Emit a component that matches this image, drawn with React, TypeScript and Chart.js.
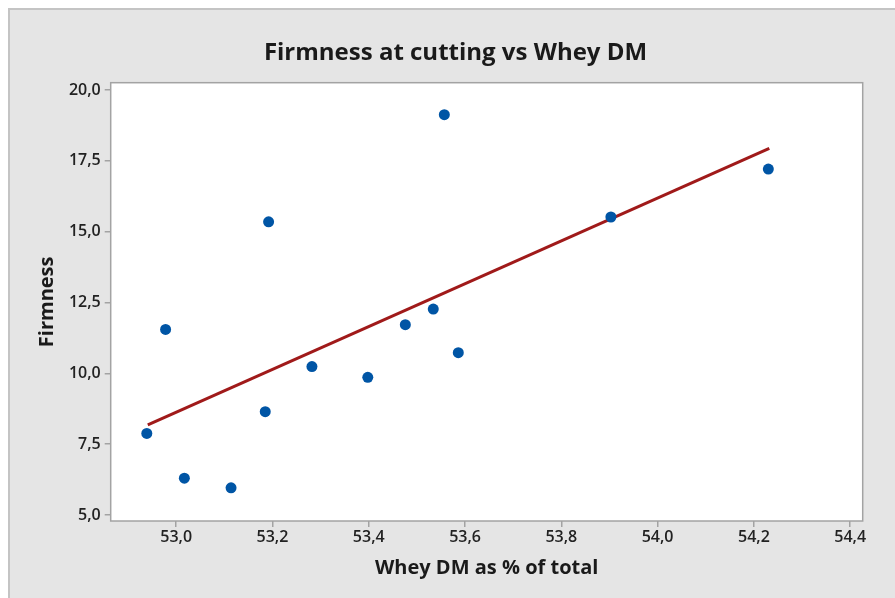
import React, { useEffect, useRef } from "react";
import { Chart, registerables } from "chart.js";

Chart.register(...registerables);

// Observations: whey dry matter (% of total) and firmness at cutting
const wheyDM = [52.939, 52.978, 53.017, 53.114, 53.185, 53.192, 53.282, 53.398, 53.476, 53.534, 53.557, 53.586, 53.903, 54.23];
const firmness = [7.88, 11.55, 6.3, 5.96, 8.65, 15.35, 10.24, 9.86, 11.72, 12.27, 19.13, 10.73, 15.52, 17.21];

// Fitted regression line end points
const fitX = [52.941, 54.232];
const fitY = [8.18, 17.94];

// Axis ticks
const xTicks = [53.0, 53.2, 53.4, 53.6, 53.8, 54.0, 54.2, 54.4];
const yTicks = [5.0, 7.5, 10.0, 12.5, 15.0, 17.5, 20.0];

const TITLE = "Firmness at cutting vs Whey DM";
const FONT = "'Open Sans', 'Noto Sans', sans-serif";
const fmt = (v: number) => v.toFixed(1).replace(".", ",");

const panelPlugin = {
  id: "panel",
  beforeDraw(chart: any) {
    const { ctx, width, height, chartArea } = chart;
    ctx.save();
    ctx.fillStyle = "#e5e5e5";
    ctx.fillRect(0, 0, width, height);
    ctx.strokeStyle = "#c4c4c4";
    ctx.lineWidth = 2;
    ctx.beginPath();
    ctx.moveTo(1, height);
    ctx.lineTo(1, 1);
    ctx.lineTo(width, 1);
    ctx.stroke();
    ctx.fillStyle = "#ffffff";
    ctx.fillRect(chartArea.left, chartArea.top, chartArea.right - chartArea.left, chartArea.bottom - chartArea.top);
    ctx.restore();
  },
  afterDraw(chart: any) {
    const { ctx, chartArea, width } = chart;
    ctx.save();
    ctx.strokeStyle = "#a3a3a3";
    ctx.lineWidth = 1.5;
    ctx.strokeRect(chartArea.left, chartArea.top, chartArea.right - chartArea.left, chartArea.bottom - chartArea.top);
    // Chart title, centred on the whole panel
    ctx.fillStyle = "#1a1a1a";
    ctx.font = `bold 24px ${FONT}`;
    ctx.textAlign = "center";
    ctx.textBaseline = "middle";
    ctx.fillText(TITLE, width / 2 + 4, 45);
    ctx.restore();
  },
};

export default function App() {
  const canvasRef = useRef<HTMLCanvasElement | null>(null);

  useEffect(() => {
    if (!canvasRef.current) return;
    const chart = new Chart(canvasRef.current, {
      type: "scatter",
      data: {
        datasets: [
          {
            type: "line",
            label: "Fit",
            data: fitX.map((x, i) => ({ x, y: fitY[i] })),
            borderColor: "#a01a1a",
            borderWidth: 3,
            pointRadius: 0,
            fill: false,
            order: 2,
          } as any,
          {
            label: "Firmness",
            data: wheyDM.map((x, i) => ({ x, y: firmness[i] })),
            backgroundColor: "#0055a5",
            borderColor: "#0055a5",
            pointRadius: 5.5,
            pointBorderWidth: 0,
            order: 1,
          },
        ],
      },
      options: {
        animation: false,
        responsive: true,
        maintainAspectRatio: false,
        layout: { padding: { left: 0, right: 32.3, top: 74.7, bottom: 0 } },
        plugins: {
          legend: { display: false },
          tooltip: { enabled: false },
          title: { display: false },
        },
        scales: {
          x: {
            type: "linear",
            min: 52.864,
            max: 54.426,
            afterBuildTicks(scale: any) {
              scale.ticks = xTicks.map((v) => ({ value: v }));
            },
            afterFit(scale: any) {
              scale.height = 77;
            },
            ticks: {
              color: "#222222",
              font: { family: FONT, size: 16, weight: "600" as any },
              padding: 1,
              autoSkip: false,
              maxRotation: 0,
              callback: (v: any) => fmt(Number(v)),
            },
            grid: { drawOnChartArea: false, drawTicks: true, tickLength: 6, color: "#a3a3a3", lineWidth: 1.5 },
            border: { display: false },
            title: {
              display: true,
              text: "Whey DM as % of total",
              color: "#1a1a1a",
              font: { family: FONT, size: 20, weight: "bold" },
              padding: { top: 0, bottom: 18 },
            },
          },
          y: {
            type: "linear",
            min: 4.79,
            max: 20.26,
            afterBuildTicks(scale: any) {
              scale.ticks = yTicks.map((v) => ({ value: v }));
            },
            afterFit(scale: any) {
              scale.width = 102.7;
            },
            ticks: {
              color: "#222222",
              font: { family: FONT, size: 16, weight: "600" as any },
              padding: 4,
              autoSkip: false,
              callback: (v: any) => fmt(Number(v)),
            },
            grid: { drawOnChartArea: false, drawTicks: true, tickLength: 6, color: "#a3a3a3", lineWidth: 1.5 },
            border: { display: false },
            title: {
              display: true,
              text: "Firmness",
              color: "#1a1a1a",
              font: { family: FONT, size: 20, weight: "bold" },
              padding: { top: 27, bottom: 0 },
            },
          },
        },
      },
      plugins: [panelPlugin],
    });
    return () => chart.destroy();
  }, []);

  return (
    <div style={{ position: "fixed", left: 8, top: 8, width: 887, height: 590 }}>
      <canvas ref={canvasRef} />
    </div>
  );
}
